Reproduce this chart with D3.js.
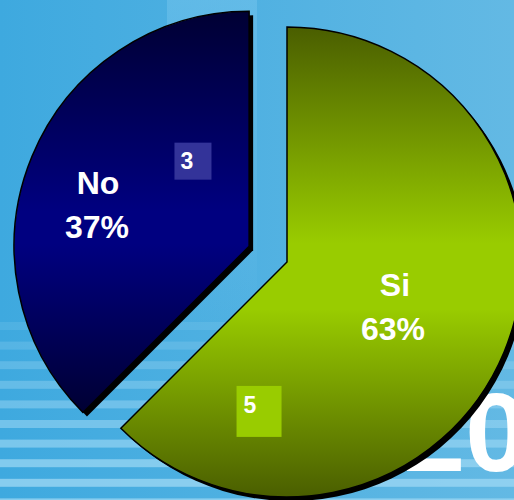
<!DOCTYPE html>
<html><head><meta charset="utf-8">
<script src="https://cdn.jsdelivr.net/npm/d3@7/dist/d3.min.js"></script>
<style>html,body{margin:0;padding:0;overflow:hidden;background:#4aaee0}</style>
</head><body>
<svg id="chart" width="514" height="500"></svg>
<script>
// ---- data ----
const categories = ["Si", "No"];
const values = [5, 3];
const percentLabels = ["63%", "37%"];
const valueLabels = ["5", "3"];

// ---- layout ----
const W = 514, H = 500;
const cx = 287, cy = 262, R = 235, explode = 41;
const svg = d3.select("#chart");
const defs = svg.append("defs");

// background
const bg = defs.append("linearGradient").attr("id", "bg").attr("x1", 0).attr("x2", 1).attr("y1", 0).attr("y2", 0);
bg.append("stop").attr("offset", 0).attr("stop-color", "#3ea9df");
bg.append("stop").attr("offset", 1).attr("stop-color", "#63b9e4");
svg.append("rect").attr("width", W).attr("height", H).attr("fill", "url(#bg)");
const band = defs.append("linearGradient").attr("id", "band").attr("x1", 0).attr("x2", 0).attr("y1", 0).attr("y2", 1);
band.append("stop").attr("offset", 0).attr("stop-color", "#7fcaf0").attr("stop-opacity", 0.4);
band.append("stop").attr("offset", 1).attr("stop-color", "#7fcaf0").attr("stop-opacity", 0);
svg.append("rect").attr("x", 167).attr("y", 0).attr("width", 90).attr("height", 330).attr("fill", "url(#band)");

// stripes
const stripeG = svg.append("g");
for (let y = 322, i = 0; y < H; y += 19.6, i++) {
  stripeG.append("rect").attr("x", 0).attr("y", y).attr("width", W).attr("height", 8)
    .attr("fill", "#9ad6f3").attr("opacity", Math.min(0.8, 0.18 + i * 0.08));
}
// big year text
svg.append("text").attr("x", 403).attr("y", 471)
  .attr("font-family", "'Liberation Sans', Arial, sans-serif").attr("font-weight", "bold")
  .attr("font-size", 112).attr("fill", "#ffffff").text("20");

// gradients for slices
function vGrad(id, edge, mid, a, b) {
  const g = defs.append("linearGradient").attr("id", id).attr("x1", 0).attr("x2", 0).attr("y1", 0).attr("y2", 1);
  g.append("stop").attr("offset", 0).attr("stop-color", edge);
  g.append("stop").attr("offset", a).attr("stop-color", mid);
  g.append("stop").attr("offset", b).attr("stop-color", mid);
  g.append("stop").attr("offset", 1).attr("stop-color", edge);
}
vGrad("gSi", "#4a5e00", "#99cc00", 0.46, 0.6);
vGrad("gNo", "#000033", "#000080", 0.5, 0.58);
const fills = ["url(#gSi)", "url(#gNo)"];

const pie = d3.pie().sort(null).startAngle(0).endAngle(2 * Math.PI);
const arcs = pie(values);
const arc = d3.arc().innerRadius(0).outerRadius(R);

function offsetOf(d, i) {
  if (i === 0) return [0, 0];
  const m = (d.startAngle + d.endAngle) / 2;
  return [Math.sin(m) * explode, -Math.cos(m) * explode];
}
function polar(d, i, ang, rad) {
  const o = offsetOf(d, i);
  return [cx + o[0] + Math.sin(ang) * rad, cy + o[1] - Math.cos(ang) * rad];
}

const slices = svg.selectAll("g.slice").data(arcs).join("g").attr("class", "slice")
  .attr("transform", (d, i) => { const o = offsetOf(d, i); return `translate(${cx + o[0]},${cy + o[1]})`; });
// shadow
slices.append("path").attr("d", arc).attr("fill", "#000").attr("transform", "translate(4,4)");
slices.append("path").attr("d", arc).attr("fill", (d, i) => fills[i])
  .attr("stroke", "#000").attr("stroke-width", 1.5).attr("stroke-linejoin", "miter");

// category + percent labels
const labelPos = [
  { ang: 114 * Math.PI / 180, rad: 116 },
  { ang: 284.4 * Math.PI / 180, rad: 157 }
];
const font = "'Liberation Sans', Arial, sans-serif";
arcs.forEach((d, i) => {
  const p = polar(d, i, labelPos[i].ang, labelPos[i].rad);
  const t = svg.append("text").attr("text-anchor", "middle").attr("font-family", font)
    .attr("font-weight", "bold").attr("font-size", 32).attr("fill", "#fff");
  t.append("tspan").attr("x", p[0] + (i === 0 ? 2 : 1)).attr("y", p[1] - 13).text(categories[i]);
  t.append("tspan").attr("x", p[0]).attr("y", p[1] + 31).text(percentLabels[i]);
});

// value label boxes
const boxPos = [
  { ang: 190.6 * Math.PI / 180, rad: 152, w: 45, h: 51, fill: "#99cc00" },
  { ang: 326.6 * Math.PI / 180, rad: 102, w: 37, h: 37, fill: "#333399" }
];
arcs.forEach((d, i) => {
  const b = boxPos[i];
  const p = polar(d, i, b.ang, b.rad);
  svg.append("rect").attr("x", p[0] - b.w / 2).attr("y", p[1] - b.h / 2).attr("width", b.w).attr("height", b.h).attr("fill", b.fill);
  svg.append("text").attr("x", p[0] - b.w / 2 + (i === 0 ? 7 : 6)).attr("y", p[1] - b.h / 2 + (i === 0 ? 27 : 26))
    .attr("font-family", font).attr("font-weight", "bold").attr("font-size", 23).attr("fill", "#fff").text(valueLabels[i]);
});
</script>
</body></html>
